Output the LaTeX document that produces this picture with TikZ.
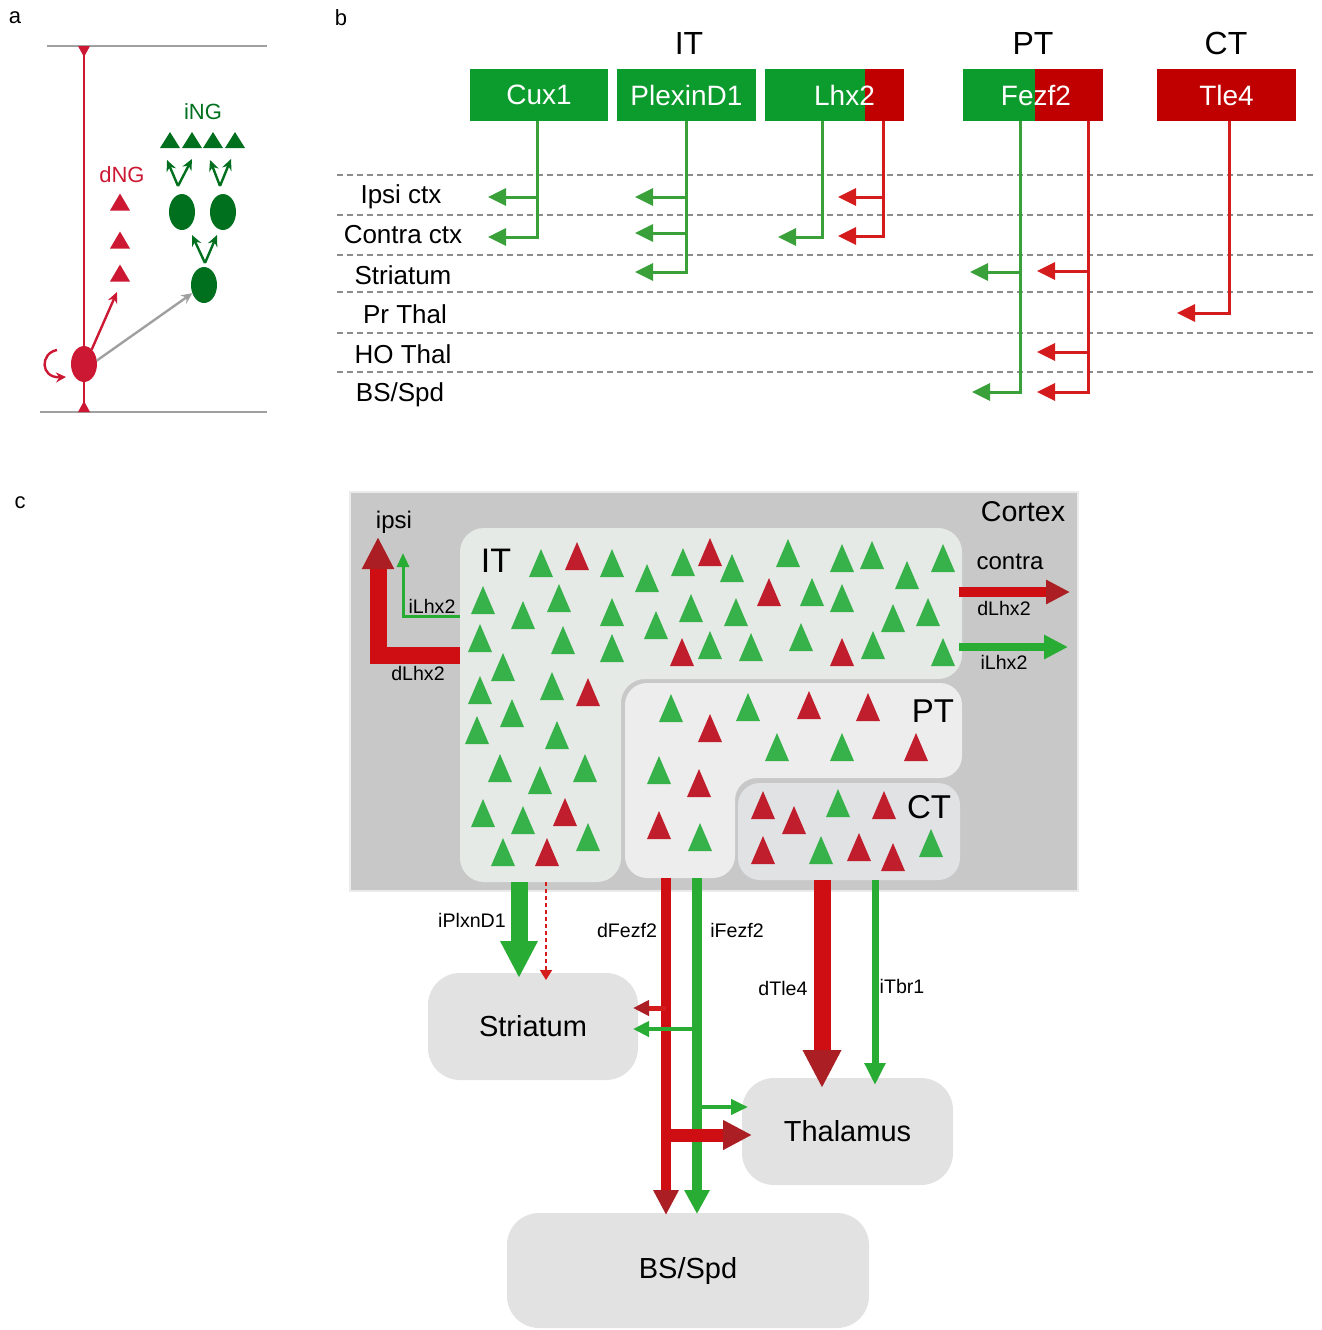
\documentclass[tikz,border=0pt]{standalone}
\usepackage{fontspec}
\setmainfont{Liberation Sans}
\usetikzlibrary{arrows.meta,calc,shapes.geometric}
\definecolor{boxgreen}{RGB}{12,155,45}
\definecolor{boxred}{RGB}{192,0,0}
\definecolor{lgreen}{RGB}{58,160,58}
\definecolor{lred}{RGB}{212,28,28}
\definecolor{agreen}{RGB}{0,112,30}
\definecolor{ared}{RGB}{204,24,50}
\definecolor{agray}{RGB}{160,160,160}
\definecolor{tgreen}{RGB}{55,178,74}
\definecolor{tred}{RGB}{192,30,45}
\definecolor{cortexgray}{RGB}{200,200,200}
\definecolor{itfill}{RGB}{230,234,230}
\definecolor{ptfill}{RGB}{237,237,237}
\definecolor{ctfill}{RGB}{224,226,228}
\definecolor{tgtfill}{RGB}{226,226,226}
\definecolor{bred}{RGB}{206,14,18}
\definecolor{bredhead}{RGB}{170,30,36}
\definecolor{bgreen}{RGB}{40,172,52}
\newcommand{\fs}[1]{\fontsize{#1}{#1}\selectfont}
\tikzset{
  gtri/.pic={\fill[tgreen] (-12,14) -- (12,14) -- (0,-14) -- cycle;},
  rtri/.pic={\fill[tred] (-12,14) -- (12,14) -- (0,-14) -- cycle;},
  atrired/.pic={\fill[ared] (-10,8.5) -- (10,8.5) -- (0,-8.5) -- cycle;},
  atrigreen/.pic={\fill[agreen] (-10,8) -- (10,8) -- (0,-8) -- cycle;},
}
\begin{document}
\begin{tikzpicture}[x=0.5pt,y=-0.5pt,
  every node/.style={inner sep=0pt,outer sep=0pt},
  panel/.style={font=\fs{11}},
  headlbl/.style={font=\fs{16}},
  gene/.style={font=\fs{14},text=white,minimum height=26pt,anchor=north west},
  rowlbl/.style={font=\fs{13}},
  dline/.style={draw=black!45,line width=1pt,dash pattern=on 3pt off 2pt},
  gconn/.style={draw=lgreen,line width=1.5pt,-{Triangle[length=9pt,width=8.5pt]}},
  rconn/.style={draw=lred,line width=1.5pt,-{Triangle[length=9pt,width=8.5pt]}},
  slbl/.style={font=\fs{9.8}},
  clbl/.style={font=\fs{14.5}},
  reglbl/.style={font=\fs{16.5}},
  tgt/.style={fill=tgtfill,rounded corners=16pt,font=\fs{14.5}},
  aline/.style={line width=1.2pt,-{Stealth[length=5.5pt,width=5pt]}},
]
\useasboundingbox (0,0) rectangle (1322,1330);

% ================= panel a =================
\node[panel] (la) at (15,18) {a};
\draw[agray,line width=1pt] (47,46) -- (267,46);
\draw[agray,line width=1pt] (40,412) -- (267,412);
\draw[ared,line width=1.3pt] (84,46) -- (84,412);
\fill[ared] (78,46) -- (90,46) -- (84,57) -- cycle;
\fill[ared] (78,412) -- (90,412) -- (84,401) -- cycle;
\node[ellipse,fill=ared,minimum width=13pt,minimum height=18pt] (soma) at (84,364) {};
\draw[ared,line width=1.2pt,-{Stealth[length=5pt,width=5pt]}] (57,350) .. controls (40,353) and (40,378) .. (66,377);
\node[font=\fs{11},text=ared] (dng) at (122,175) {dNG};
\foreach \y in {202,240,273} \pic at (120,\y) {atrired};
\coordinate (dngtip) at (117,292);
\draw[ared,aline] (soma.62) -- (dngtip);
\node[font=\fs{11},text=agreen] (ing) at (203,112) {iNG};
\foreach \x in {170,192,213,235} \pic at (\x,140) {atrigreen};
\node[ellipse,fill=agreen,minimum width=13pt,minimum height=18pt] (ing1) at (182,212) {};
\node[ellipse,fill=agreen,minimum width=13pt,minimum height=18pt] (ing2) at (223,212) {};
\node[ellipse,fill=agreen,minimum width=13pt,minimum height=18pt] (ing0) at (204,285) {};
\draw[agray,aline] (soma.15) -- (ing0.215);
\coordinate (v1) at (178,186); \coordinate (v1a) at (167,160); \coordinate (v1b) at (192,159);
\coordinate (v2) at (220,186); \coordinate (v2a) at (210,160); \coordinate (v2b) at (231,159);
\coordinate (v0) at (205,263); \coordinate (v0a) at (192,235); \coordinate (v0b) at (217,235);
\foreach \v in {v1,v2,v0} {
  \draw[agreen,aline] (\v) -- (\v a);
  \draw[agreen,aline] (\v) -- (\v b);
}

% ================= panel b =================
\node[panel] (lb) at (341,18) {b};
\node[headlbl] (hIT) at (689,43) {IT};
\node[headlbl] (hPT) at (1033,43) {PT};
\node[headlbl] (hCT) at (1226,43) {CT};

\foreach \y in {175,215,255,292,333,372} \draw[dline] (337,\y) -- (1313,\y);

\node[rowlbl] (r1) at (401,197) {Ipsi ctx};
\node[rowlbl] (r2) at (403,235) {Contra ctx};
\node[rowlbl] (r3) at (403,275) {Striatum};
\node[rowlbl] (r4) at (405,314) {Pr Thal};
\node[rowlbl] (r5) at (403,354) {HO Thal};
\node[rowlbl] (r6) at (400,395) {BS/Spd};

\node[gene,fill=boxgreen,minimum width=69pt] (cux1) at (470,69) {Cux1};
\node[gene,fill=boxgreen,minimum width=69.5pt] (plex) at (617,69) {PlexinD1};
\node[gene,fill=boxgreen,minimum width=69.5pt,
  path picture={\fill[boxred] ([xshift=-19.5pt]path picture bounding box.north east) rectangle (path picture bounding box.south east);}]
  (lhx2) at (765,69) {\hspace*{10pt}Lhx2};
\node[gene,fill=boxgreen,minimum width=70pt,
  path picture={\fill[boxred] ([xshift=-34pt]path picture bounding box.north east) rectangle (path picture bounding box.south east);}]
  (fezf2) at (963,69) {\hspace*{3pt}Fezf2};
\node[gene,fill=boxred,minimum width=69.5pt] (tle4) at (1157,69) {Tle4};

% Cux1
\coordinate (cA) at (488,197); \coordinate (cB) at (488,237);
\draw[gconn] ($(cux1.south)+(-2,0)$) |- (cA);
\draw[gconn] ($(cux1.south)+(-2,0)$) |- (cB);
% PlexinD1
\coordinate (pA) at (635,197); \coordinate (pB) at (635,233); \coordinate (pC) at (635,272);
\draw[gconn] (plex.south) |- (pC);
\draw[gconn] (plex.south) |- (pB);
\draw[gconn] (plex.south) |- (pA);
% Lhx2
\coordinate (lgB) at (778,237);
\draw[gconn] ($(lhx2.south)+(-12.5,0)$) |- (lgB);
\coordinate (lrA) at (838,197); \coordinate (lrB) at (838,236);
\draw[rconn] ($(lhx2.south)+(48.5,0)$) |- (lrB);
\draw[rconn] ($(lhx2.south)+(48.5,0)$) |- (lrA);
% Fezf2
\coordinate (fgC) at (970,272); \coordinate (fgF) at (972,392);
\draw[gconn] ($(fezf2.south)+(-13,0)$) |- (fgF);
\draw[gconn] ($(fezf2.south)+(-13,0)$) |- (fgC);
\coordinate (frC) at (1037,271); \coordinate (frE) at (1037,352); \coordinate (frF) at (1037,392);
\draw[rconn] ($(fezf2.south)+(55,0)$) |- (frF);
\draw[rconn] ($(fezf2.south)+(55,0)$) |- (frE);
\draw[rconn] ($(fezf2.south)+(55,0)$) |- (frC);
% Tle4
\coordinate (tD) at (1177,313);
\draw[rconn] ($(tle4.south)+(2.5,0)$) |- (tD);

% ================= panel c =================
\node[panel] (lc) at (20,503) {c};
\draw[draw=black!8,fill=cortexgray,line width=1.2pt] (350,492) rectangle (1078,891);
\node[font=\fs{14.3}] (cortex) at (1023,512) {Cortex};

\fill[itfill,rounded corners=12pt] (460,528) -- (962,528) -- (962,679) -- (621,679) -- (621,882) -- (460,882) -- cycle;
\fill[ptfill,rounded corners=11pt] (625,683) -- (962,683) -- (962,778) -- (735,778) -- (735,878) -- (625,878) -- cycle;
\fill[ctfill,rounded corners=11pt] (738,783) rectangle (960,880);

\node[font=\fs{17}] (itl) at (496,561) {IT};
\node[reglbl] (ptl) at (933,711) {PT};
\node[reglbl] (ctl) at (929,807) {CT};

\foreach \x/\y in {541/563,612/563,647/578,683/562,732/568,788/553,842/558,872/555,907/575,943/558,
  483/600,523/615,559/598,612/612,656/625,691/608,736/612,812/592,842/598,893/618,928/612,
  480/638,563/640,612/648,710/645,751/647,801/637,873/645,943/652,
  503/667,480/690,552/686,512/713,477/730,557/735,500/768,540/780,585/768,483/813,523/820,588/837,503/852,
  671/708,748/707,777/747,842/747,659/770,700/837,
  838/803,821/850,931/843}
  \pic at (\x,\y) {gtri};
\foreach \x/\y in {577/556,710/552,769/592,682/652,842/652,588/692,565/812,547/852,
  710/728,809/705,868/707,916/747,699/783,659/825,
  763/805,794/820,884/805,763/850,859/847,893/857}
  \pic at (\x,\y) {rtri};

% ipsi arrows
\coordinate (itL1) at (460,655); \coordinate (ipsiR) at (378,537);
\coordinate (itL2) at (460,616); \coordinate (ipsiG) at (403,553);
\draw[bred,line width=8.5pt,line join=miter,-{Triangle[length=16pt,width=15pt,fill=bredhead,color=bredhead]}] (itL1) -| (ipsiR);
\draw[bgreen,line width=1.5pt,-{Triangle[length=7pt,width=6pt]}] (itL2) -| (ipsiG);
\node[font=\fs{12}] (ipsi) at (394,522) {ipsi};
\node[slbl] (il1) at (432,606) {iLhx2};
\node[slbl] (dl1) at (418,673) {dLhx2};

% contra arrows
\coordinate (itR1) at (959,592); \coordinate (contraR) at (1070,592);
\coordinate (itR2) at (959,647); \coordinate (contraG) at (1068,647);
\draw[bred,line width=5pt,-{Triangle[length=12pt,width=11.5pt,fill=bredhead,color=bredhead]}] (itR1) -- (contraR);
\draw[bgreen,line width=4pt,-{Triangle[length=12pt,width=11.5pt]}] (itR2) -- (contraG);
\node[font=\fs{12}] (contra) at (1010,562) {contra};
\node[slbl] (dl2) at (1004,608) {dLhx2};
\node[slbl] (il2) at (1004,662) {iLhx2};

% targets
\node[tgt,minimum width=105pt,minimum height=53.5pt] (strat) at (533,1026.5) {Striatum};
\node[tgt,minimum width=105.5pt,minimum height=53.5pt] (thal) at (847.5,1131.5) {Thalamus};
\node[tgt,minimum width=181pt,minimum height=57.5pt] (bs) at (688,1270.5) {BS/Spd};

% IT -> striatum
\coordinate (itB1) at (519,882); \coordinate (itB2) at (546,882);
\draw[bgreen,line width=8.5pt,-{Triangle[length=18.5pt,width=17.5pt]}] (itB1) -- ($(itB1 |- strat.north)+(0,5)$);
\draw[lred,line width=1pt,dash pattern=on 2pt off 1.5pt,-{Triangle[length=5pt,width=6pt]}] (itB2) -- ($(itB2 |- strat.north)+(0,7)$);
\node[slbl] (ipl) at (472,920) {iPlxnD1};

% PT -> targets
\coordinate (ptB1) at (666,878); \coordinate (ptB2) at (697,878);
\draw[bred,line width=5pt,-{Triangle[length=12.5pt,width=12pt,fill=bredhead,color=bredhead]}] (ptB1) -- ($(ptB1 |- bs.north)+(0,2)$);
\draw[bgreen,line width=5pt,-{Triangle[length=12pt,width=12pt]}] (ptB2) -- ($(ptB2 |- bs.north)+(0,1)$);
\coordinate (fzR1) at (666,1008); \coordinate (fzG1) at (697,1029);
\coordinate (fzG2) at (697,1107); \coordinate (fzR2) at (666,1135);
\draw[lred,line width=2.5pt,-{Triangle[length=8pt,width=7.5pt,fill=bredhead,color=bredhead]}] (fzR1) -- ($(fzR1 -| strat.east)+(-5,0)$);
\draw[bgreen,line width=2pt,-{Triangle[length=8pt,width=7.5pt]}] (fzG1) -- ($(fzG1 -| strat.east)+(-5,0)$);
\draw[bgreen,line width=2pt,-{Triangle[length=8.5pt,width=7.5pt]}] (fzG2) -- ($(fzG2 -| thal.west)+(6,0)$);
\draw[bred,line width=6.5pt,-{Triangle[length=14.5pt,width=14pt,fill=bredhead,color=bredhead]}] (fzR2) -- ($(fzR2 -| thal.west)+(10,0)$);
\node[slbl] (dfz) at (627,930) {dFezf2};
\node[slbl] (ifz) at (737,930) {iFezf2};

% CT -> thalamus
\coordinate (ctB1) at (822,880); \coordinate (ctB2) at (875,880);
\draw[bred,line width=8.5pt,-{Triangle[length=19pt,width=18pt,fill=bredhead,color=bredhead]}] (ctB1) -- ($(ctB1 |- thal.north)+(0,10)$);
\draw[bgreen,line width=3.5pt,-{Triangle[length=11pt,width=10pt]}] (ctB2) -- ($(ctB2 |- thal.north)+(0,7)$);
\node[slbl] (dtl) at (783,988) {dTle4};
\node[slbl] (itb) at (902,986) {iTbr1};
\end{tikzpicture}
\end{document}
